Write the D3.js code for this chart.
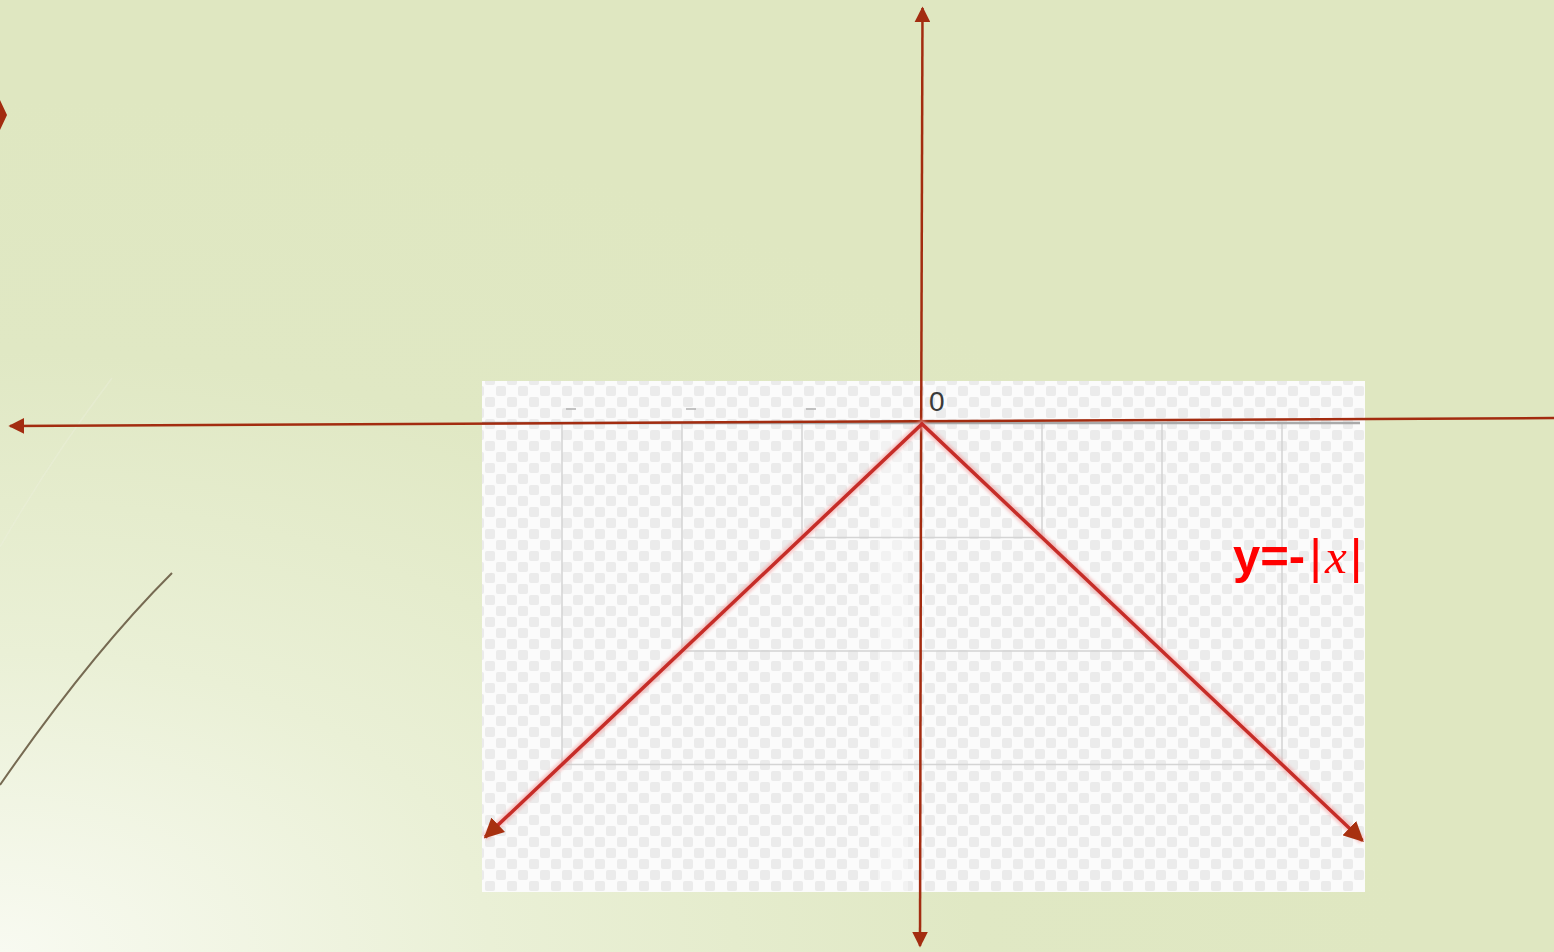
<!DOCTYPE html>
<html>
<head>
<meta charset="utf-8">
<script src="https://cdn.jsdelivr.net/npm/d3@7"></script>
<style>
  html, body { margin: 0; padding: 0; overflow: hidden; }
  svg { display: block; }
</style>
</head>
<body>
<svg id="slide" width="1554" height="952"></svg>
<script>
// data: the graph of y = -|x|
const lineX = [-3.64, 0, 3.67]
const lineY = [-3.64, 0, -3.67]
// grid of the pasted picture (nested boxes)
const gridLevels = [1, 2, 3]
const tickDashes = [-3, -2, -1]
const originLabel = '0'
const labelText = ['y=-', '|', 'x', '|']

const W = 1554, H = 952
const svg = d3.select('#slide')
const defs = svg.append('defs')

// background gradient of the slide
const bg = defs.append('radialGradient')
    .attr('id', 'bg')
    .attr('cx', 0).attr('cy', 1).attr('r', 0.9)
    .attr('gradientUnits', 'objectBoundingBox')
bg.append('stop').attr('offset', '0%').attr('stop-color', '#f8faf1')
bg.append('stop').attr('offset', '35%').attr('stop-color', '#eaf0d6')
bg.append('stop').attr('offset', '70%').attr('stop-color', '#e0e8c4')
bg.append('stop').attr('offset', '100%').attr('stop-color', '#dfe7c1')

svg.append('rect').attr('width', W).attr('height', H).attr('fill', 'url(#bg)')

// checkerboard of the pasted picture
const pat = defs.append('pattern')
    .attr('id', 'checker')
    .attr('patternUnits', 'userSpaceOnUse')
    .attr('width', 22).attr('height', 22)
pat.append('rect').attr('width', 22).attr('height', 22).attr('fill', '#fbfbfb')
pat.append('rect').attr('x', 1).attr('y', 1).attr('width', 10).attr('height', 10).attr('rx', 2).attr('fill', '#ebebeb')
pat.append('rect').attr('x', 12).attr('y', 12).attr('width', 10).attr('height', 10).attr('rx', 2).attr('fill', '#ebebeb')

const glow = defs.append('filter').attr('id', 'glow').attr('x', '-10%').attr('y', '-10%').attr('width', '120%').attr('height', '120%')
glow.append('feGaussianBlur').attr('stdDeviation', 1.6)

// arrow markers
function marker(id, color, size) {
    defs.append('marker')
        .attr('id', id)
        .attr('viewBox', '0 0 10 10')
        .attr('refX', 9).attr('refY', 5)
        .attr('markerUnits', 'userSpaceOnUse')
        .attr('markerWidth', size).attr('markerHeight', size)
        .attr('orient', 'auto-start-reverse')
        .append('path')
        .attr('d', 'M0,0 L10,5 L0,10 Z')
        .attr('fill', color)
}
marker('axisArrow', '#a32c10', 16)
marker('lineArrow', '#a8300f', 20)

// decorations of the slide template
svg.append('path')
    .attr('d', 'M172,573 Q90,655 0,785')
    .attr('fill', 'none')
    .attr('stroke', '#766a52')
    .attr('stroke-width', 2)
svg.append('path')
    .attr('d', 'M0,100 L7,115 L0,130 Z')
    .attr('fill', '#a32c10')
svg.append('path')
    .attr('d', 'M112,378 Q50,460 0,547')
    .attr('fill', 'none')
    .attr('stroke', '#eef2e0')
    .attr('stroke-width', 1.5)
    .attr('opacity', 0.35)

// scales
const x = d3.scaleLinear().domain([-1, 1]).range([802, 1042])
const y = d3.scaleLinear().domain([-1, 1]).range([537.5, 310.5])

// pasted picture
const pic = { x0: 482, x1: 1365, y0: 381, y1: 892 }
svg.append('rect')
    .attr('x', pic.x0).attr('y', pic.y0)
    .attr('width', pic.x1 - pic.x0).attr('height', pic.y1 - pic.y0)
    .attr('fill', 'url(#checker)')
svg.append('rect')
    .attr('x', 878).attr('y', 430).attr('width', 30).attr('height', pic.y1 - 430)
    .attr('fill', '#fdfdfd').attr('opacity', 0.4)

const grid = svg.append('g').attr('stroke', '#d4d4d4').attr('stroke-width', 1.5).attr('fill', 'none')
grid.selectAll('path.box')
    .data(gridLevels)
    .join('path')
    .attr('class', 'box')
    .attr('d', d => `M${x(-d)},${y(0)} V${y(-d)} H${x(d)} V${y(0)}`)

svg.append('line')
    .attr('x1', pic.x0).attr('x2', 1360)
    .attr('y1', y(0) - 1).attr('y2', y(0) - 1)
    .attr('stroke', '#a9a9a9').attr('stroke-width', 2.5)

svg.append('g').selectAll('line')
    .data(tickDashes)
    .join('line')
    .attr('x1', d => x(d) + 4).attr('x2', d => x(d) + 14)
    .attr('y1', 409).attr('y2', 409)
    .attr('stroke', '#b0b0b0').attr('stroke-width', 1.5)

svg.append('text')
    .attr('x', x(0) + 7).attr('y', 411)
    .attr('font-family', 'Liberation Sans, Arial, sans-serif')
    .attr('font-size', 28)
    .attr('fill', '#3a3a3a')
    .text(originLabel)

// main axes of the slide
svg.append('line')
    .attr('x1', 1560).attr('y1', 418)
    .attr('x2', 10).attr('y2', 426)
    .attr('stroke', '#a32c10').attr('stroke-width', 2.5)
    .attr('marker-end', 'url(#axisArrow)')
svg.append('line')
    .attr('x1', 921).attr('y1', 480)
    .attr('x2', 922.5).attr('y2', 8)
    .attr('stroke', '#a32c10').attr('stroke-width', 2.5)
    .attr('marker-end', 'url(#axisArrow)')
svg.append('line')
    .attr('x1', 921).attr('y1', 480)
    .attr('x2', 920).attr('y2', 946)
    .attr('stroke', '#a32c10').attr('stroke-width', 2.5)
    .attr('marker-end', 'url(#axisArrow)')

// the graph y = -|x|
const pts = lineX.map((v, i) => [v, lineY[i]])
const line = d3.line().x(d => x(d[0])).y(d => y(d[1]))
svg.append('path')
    .attr('d', line(pts))
    .attr('fill', 'none')
    .attr('stroke', '#f2a0a0')
    .attr('stroke-width', 8)
    .attr('opacity', 0.6)
    .attr('filter', 'url(#glow)')
svg.append('path')
    .attr('d', line(pts))
    .attr('fill', 'none')
    .attr('stroke', '#c62d28')
    .attr('stroke-width', 3.5)
    .attr('stroke-linejoin', 'miter')
// arrowheads at both ends
svg.append('path')
    .attr('d', line([pts[1], pts[0]]))
    .attr('fill', 'none').attr('stroke', 'none')
    .attr('marker-end', 'url(#lineArrow)')
svg.append('path')
    .attr('d', line([pts[1], pts[2]]))
    .attr('fill', 'none').attr('stroke', 'none')
    .attr('marker-end', 'url(#lineArrow)')

// label
const lab = svg.append('text')
    .attr('x', 1233).attr('y', 573)
    .attr('fill', '#ff0000')
    .attr('font-size', 49)
lab.append('tspan')
    .attr('font-family', 'Liberation Sans, Arial, sans-serif')
    .attr('font-weight', 'bold')
    .text(labelText[0])
lab.append('tspan')
    .attr('font-family', 'Liberation Sans, Arial, sans-serif')
    .attr('dx', 4)
    .text(labelText[1])
lab.append('tspan')
    .attr('font-family', 'Liberation Serif, DejaVu Serif, serif')
    .attr('font-style', 'italic')
    .attr('dx', 3)
    .text(labelText[2])
lab.append('tspan')
    .attr('font-family', 'Liberation Sans, Arial, sans-serif')
    .attr('dx', 3)
    .text(labelText[3])
</script>
</body>
</html>
